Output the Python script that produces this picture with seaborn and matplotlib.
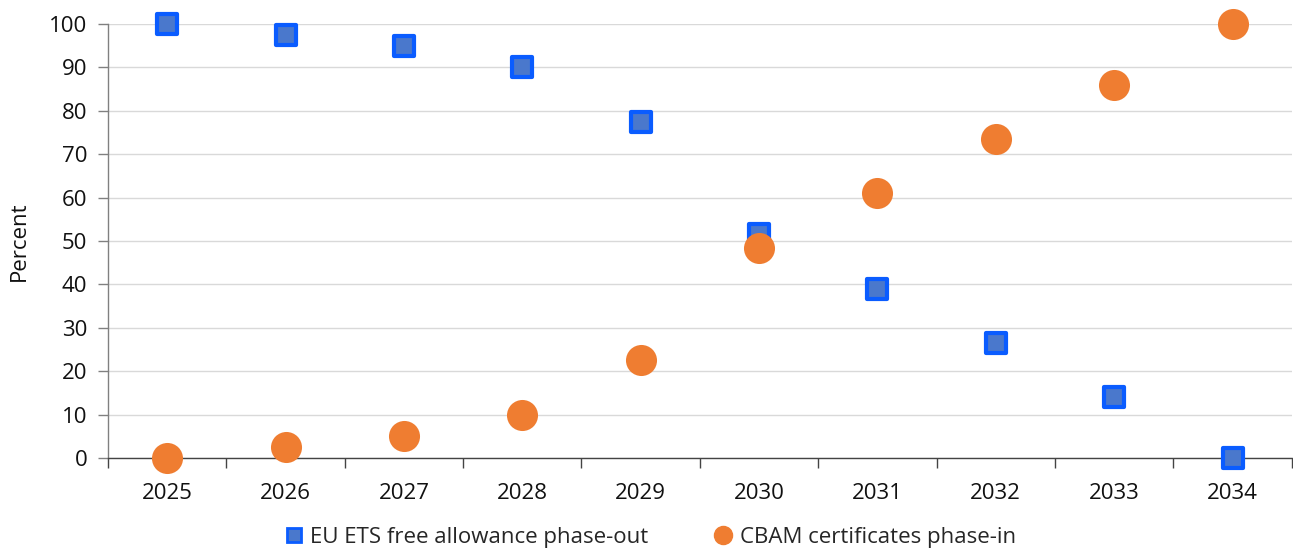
import matplotlib
matplotlib.use("Agg")
import matplotlib.pyplot as plt
import seaborn as sns
import pandas as pd
from matplotlib.lines import Line2D

years = ["2025", "2026", "2027", "2028", "2029", "2030", "2031", "2032", "2033", "2034"]
ets_free_allowance = [100, 97.5, 95, 90, 77.5, 51.5, 39, 26.5, 14, 0]
cbam_phase_in = [0, 2.5, 5, 10, 22.5, 48.5, 61, 73.5, 86, 100]
y_ticks = [0, 10, 20, 30, 40, 50, 60, 70, 80, 90, 100]

ets_label = "EU ETS free allowance phase-out"
cbam_label = "CBAM certificates phase-in"

sns.set_theme(style="white")
plt.rcParams["font.family"] = ["Open Sans", "DejaVu Sans"]

df = pd.DataFrame({"year": years, "ets": ets_free_allowance, "cbam": cbam_phase_in})
df["pos"] = range(len(years))

fig = plt.figure(figsize=(12.93, 5.52), dpi=100)
ax = fig.add_axes([0.0835, 0.1703, 0.9155, 0.7862])

ETS_FACE = "#4a78cc"
ETS_EDGE = "#0a5cff"
CBAM_COLOR = "#ef7d31"
FS = 16

sns.scatterplot(data=df, x="pos", y="ets", marker="s", s=210, color=ETS_FACE,
                edgecolor=ETS_EDGE, linewidth=3.0, ax=ax, zorder=3, legend=False,
                clip_on=False)
sns.scatterplot(data=df, x="pos", y="cbam", marker="o", s=500, color=CBAM_COLOR,
                edgecolor=CBAM_COLOR, linewidth=0, ax=ax, zorder=4, legend=False,
                clip_on=False)
for coll in ax.collections[:1]:
    coll.set_joinstyle("round")

ax.set_xlim(-0.5, len(years) - 0.5)
ax.set_ylim(0, 100)
ax.set_xticks(range(len(years)))
ax.set_xticklabels(years)
ax.set_xticks([i + 0.5 for i in range(-1, len(years))], minor=True)
ax.set_yticks(y_ticks)
ax.set_yticklabels([str(v) for v in y_ticks])
ax.set_xlabel("")
ax.set_ylabel("Percent", fontsize=FS, color="#111111", labelpad=14)

ax.yaxis.grid(True, color="#d9d9d9", linewidth=1)
ax.set_axisbelow(True)
for side in ["top", "right"]:
    ax.spines[side].set_visible(False)
ax.spines["left"].set_color("#808080")
ax.spines["bottom"].set_color("#444444")
ax.spines["left"].set_linewidth(1)
ax.spines["bottom"].set_linewidth(1)

ax.tick_params(axis="y", which="major", left=True, length=7, width=1, color="#808080",
               labelsize=FS, labelcolor="#111111", pad=8)
ax.tick_params(axis="x", which="major", bottom=False, labelsize=FS, labelcolor="#111111", pad=12)
ax.tick_params(axis="x", which="minor", bottom=True, length=7, width=1, color="#444444")

handles = [
    Line2D([], [], marker="s", linestyle="none", markersize=10, markerfacecolor=ETS_FACE,
           markeredgecolor=ETS_EDGE, markeredgewidth=2, label=ets_label),
    Line2D([], [], marker="o", linestyle="none", markersize=13, markerfacecolor=CBAM_COLOR,
           markeredgecolor=CBAM_COLOR, label=cbam_label),
]
fig.legend(handles=handles, loc="center", bbox_to_anchor=(0.5, 0.027), ncol=2,
           frameon=False, fontsize=FS, handletextpad=0.0, columnspacing=2.6,
           handlelength=1.5)

fig.savefig("out.png", dpi=100)
